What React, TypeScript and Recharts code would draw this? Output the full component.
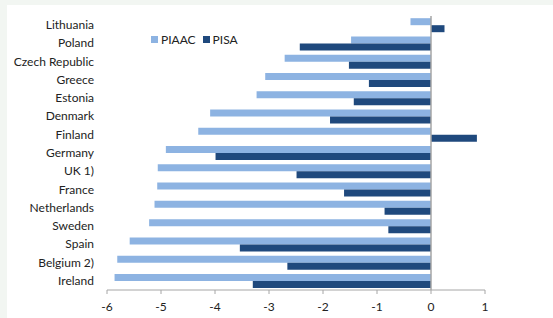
import React from "react";
import { Bar, BarChart, Legend, ReferenceLine, XAxis, YAxis } from "recharts";

const countries = [
  "Lithuania",
  "Poland",
  "Czech Republic",
  "Greece",
  "Estonia",
  "Denmark",
  "Finland",
  "Germany",
  "UK 1)",
  "France",
  "Netherlands",
  "Sweden",
  "Spain",
  "Belgium 2)",
  "Ireland",
];

const piaac = [-0.38, -1.48, -2.71, -3.07, -3.23, -4.09, -4.31, -4.91, -5.06, -5.07, -5.12, -5.22, -5.58, -5.81, -5.86];
const pisa = [0.25, -2.43, -1.52, -1.15, -1.43, -1.87, 0.85, -3.99, -2.49, -1.61, -0.86, -0.79, -3.54, -2.66, -3.3];

const xTicks = [-6, -5, -4, -3, -2, -1, 0, 1];

const seriesColors = { PIAAC: "#8db3e2", PISA: "#1f497d" };

const data = countries.map((name, i) => ({ name, PIAAC: piaac[i], PISA: pisa[i] }));

const font = "Lato, 'Open Sans', sans-serif";

function LegendBox() {
  return (
    <div style={{ display: "flex", alignItems: "center", fontFamily: font, fontSize: 12, color: "#222" }}>
      {(["PIAAC", "PISA"] as const).map((k) => (
        <div key={k} style={{ display: "flex", alignItems: "center", marginRight: 7 }}>
          <span style={{ width: 7, height: 7, background: seriesColors[k], marginRight: 3 }} />
          <span>{k}</span>
        </div>
      ))}
    </div>
  );
}

// plain text tick so long names stay on one line
function CountryTick({ x, y, payload }: { x?: number; y?: number; payload?: { value: string } }) {
  return (
    <text x={x} y={y} dy={4} textAnchor="end" fontSize={12} fill="#222" fontFamily={font}>
      {payload?.value}
    </text>
  );
}

export default function App() {
  return (
    <div style={{ position: "absolute", left: 0, top: 0, width: 553, height: 318, background: "#f2f6f2" }}>
      <div style={{ position: "absolute", left: 7, top: 5, width: 546, height: 313, background: "#fff" }}>
        <BarChart
          width={546}
          height={313}
          data={data}
          layout="vertical"
          margin={{ top: 11, right: 68, bottom: 0, left: 0 }}
          barCategoryGap="12%"
          barGap={0}
        >
          <XAxis
            type="number"
            domain={[-6, 1]}
            ticks={xTicks}
            interval={0}
            height={28}
            stroke="#a6a6a6"
            tickSize={4}
            tickMargin={8}
            tick={{ fontSize: 12, fill: "#222", fontFamily: font }}
          />
          <YAxis
            type="category"
            dataKey="name"
            width={100}
            axisLine={false}
            tickLine={false}
            tickMargin={7}
            interval={0}
            tick={<CountryTick />}
          />
          <Legend
            layout="horizontal"
            verticalAlign="middle"
            align="center"
            content={<LegendBox />}
            wrapperStyle={{ top: 27, left: 144, width: "auto" }}
          />
          <Bar dataKey="PIAAC" fill={seriesColors.PIAAC} isAnimationActive={false} />
          <Bar dataKey="PISA" fill={seriesColors.PISA} isAnimationActive={false} />
          <ReferenceLine x={0} stroke="#a6a6a6" strokeWidth={1.5} />
        </BarChart>
      </div>
    </div>
  );
}
